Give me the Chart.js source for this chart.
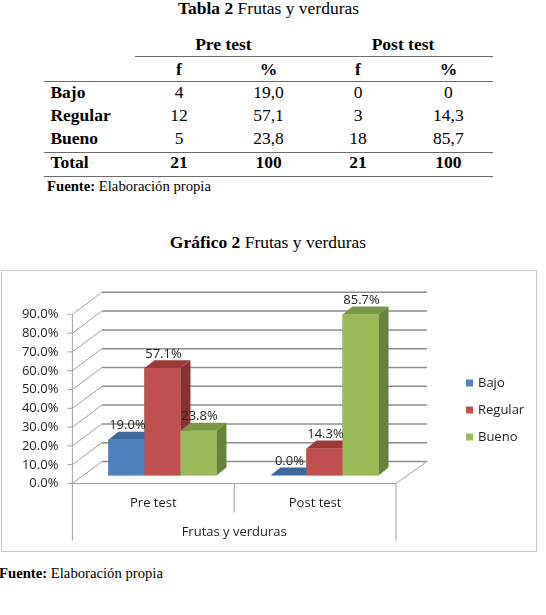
<!DOCTYPE html>
<html><head><meta charset="utf-8">
<script src="https://cdn.jsdelivr.net/npm/chart.js@4.4.0/dist/chart.umd.min.js"></script>
<style>
html,body{margin:0;padding:0;background:#fff;width:546px;height:615px;overflow:hidden;position:relative;}
.t{position:absolute;white-space:nowrap;line-height:1;font-family:"Liberation Serif","Times New Roman",serif;color:#000;font-size:17.5px;transform:translate(-50%,-50%);}
.l{transform:translate(0,-50%);}
.s{font-size:14.7px;}
.hl{position:absolute;height:0;border-top:1.5px solid #6a6a6a;}
#box{position:absolute;left:1px;top:270px;width:536px;height:282px;border:1px solid #c9c9c9;box-sizing:border-box;}
#c{position:absolute;left:0;top:0;}
</style></head>
<body>
<div id="page"></div>
<div id="box"></div>
<canvas id="c" width="546" height="615"></canvas>
<script>
// ---- chart data ----
const categories = ['Pre test', 'Post test'];
const axisTitle = 'Frutas y verduras';
const seriesNames = ['Bajo', 'Regular', 'Bueno'];
const bajo = [0.190, 0.000];
const regular = [0.571, 0.143];
const bueno = [0.238, 0.857];
const yMax = 0.9;
const yStep = 0.1;

// ---- table data ----
const tableRows = ['Bajo', 'Regular', 'Bueno'];
const preF = ['4', '12', '5'];
const prePct = ['19,0', '57,1', '23,8'];
const postF = ['0', '3', '18'];
const postPct = ['0', '14,3', '85,7'];
const totalLabel = 'Total';
const totals = ['21', '100', '21', '100'];
const groupHeads = ['Pre test', 'Post test'];
const colHeads = ['f', '%', 'f', '%'];

// ---- build table (HTML text) ----
const page = document.getElementById('page');
function txt(html, x, y, cls) {
  const d = document.createElement('div');
  d.className = 't' + (cls ? ' ' + cls : '');
  d.style.left = x + 'px'; d.style.top = y + 'px';
  d.innerHTML = html; page.appendChild(d);
}
function hline(x1, x2, y) {
  const d = document.createElement('div');
  d.className = 'hl';
  d.style.left = x1 + 'px'; d.style.width = (x2 - x1) + 'px'; d.style.top = y + 'px';
  page.appendChild(d);
}
const colX = [179, 268.5, 358, 448.4];
const rowY = [92.7, 116, 139.3];
txt('<b>Tabla 2</b> Frutas y verduras', 268.5, 9);
txt('<b>' + groupHeads[0] + '</b>', 223.4, 45);
txt('<b>' + groupHeads[1] + '</b>', 403, 45);
hline(134.5, 493, 56);
colHeads.forEach((h, i) => txt('<b>' + h + '</b>', colX[i], 70));
hline(44, 493, 80.5);
tableRows.forEach((r, i) => {
  txt('<b>' + r + '</b>', 50.4, rowY[i], 'l');
  [preF[i], prePct[i], postF[i], postPct[i]].forEach((v, j) => txt(v, colX[j], rowY[i]));
});
hline(44, 493, 152);
txt('<b>' + totalLabel + '</b>', 50.4, 163.3, 'l');
totals.forEach((v, j) => txt('<b>' + v + '</b>', colX[j], 163.3));
hline(44, 493, 176);
txt('<b>Fuente:</b> Elaboración propia', 47, 186, 'l s');
txt('<b>Gráfico 2</b> Frutas y verduras', 268, 243);
txt('<b>Fuente:</b> Elaboración propia', -1, 573, 'l s');

// ---- chart ----
const FONT = '"Open Sans", sans-serif';
const fronts = ['#4F81BD', '#C0504D', '#9BBB59'];
const tops = ['#3C689D', '#9A3B38', '#7A9843'];
const sides = ['#345C8B', '#863230', '#66833A'];
const DX = 10, DY = -8;

function L(ctx, x1, y1, x2, y2) {
  ctx.beginPath(); ctx.moveTo(x1, y1); ctx.lineTo(x2, y2); ctx.stroke();
}
function P(ctx, pts, col) {
  ctx.beginPath(); ctx.moveTo(pts[0][0], pts[0][1]);
  for (let k = 1; k < pts.length; k++) ctx.lineTo(pts[k][0], pts[k][1]);
  ctx.closePath(); ctx.fillStyle = col; ctx.fill();
}

const deco = {
  id: 'deco',
  beforeDatasetsDraw(chart) {
    const { ctx, chartArea: a, scales: { y } } = chart;
    const fL = a.left - 9, fR = a.right - 9.5, bL = fL + 29.5, bR = fR + 31;
    const fy = v => y.getPixelForValue(v) + 8;
    const by = v => y.getPixelForValue(v) - 14;
    const vals = y.ticks.map(t => t.value);
    ctx.save();
    ctx.lineCap = 'butt';
    ctx.strokeStyle = '#8e8e8e'; ctx.lineWidth = 1.5;
    vals.forEach(v => L(ctx, bL, by(v), bR, by(v)));
    ctx.strokeStyle = '#a0a0a0'; ctx.lineWidth = 1;
    vals.forEach(v => L(ctx, fL, fy(v), bL, by(v)));
    vals.forEach(v => L(ctx, fL - 5, fy(v), fL, fy(v)));
    const floorY = fy(0);
    L(ctx, fL, fy(vals[vals.length - 1]), fL, floorY + 57);
    L(ctx, fL, floorY, fR, floorY);
    L(ctx, fR, floorY, bR, by(0));
    L(ctx, fR, floorY, fR, floorY + 57);
    const n = chart.data.labels.length, cw = (fR - fL) / n;
    for (let i = 1; i < n; i++) L(ctx, fL + cw * i, floorY, fL + cw * i, floorY + 29);
    ctx.fillStyle = '#1f1f1f';
    ctx.font = '13px ' + FONT;
    ctx.textAlign = 'center'; ctx.textBaseline = 'middle';
    chart.data.labels.forEach((lab, i) => ctx.fillText(lab, fL + cw * (i + 0.5), floorY + 19.5));
    ctx.fillText(axisTitle, (fL + fR) / 2, floorY + 48.5);
    ctx.restore();
  },
  afterDatasetsDraw(chart) {
    const ctx = chart.ctx;
    const n = chart.data.labels.length;
    ctx.save();
    const labels = [];
    for (let i = 0; i < n; i++) {
      chart.data.datasets.forEach((ds, d) => {
        const bar = chart.getDatasetMeta(d).data[i];
        const p = bar.getProps(['x', 'y', 'base', 'width'], true);
        const l = p.x - p.width / 2, r = p.x + p.width / 2, top = p.y, base = p.base;
        P(ctx, [[r, top], [r + DX, top + DY], [r + DX, base + DY], [r, base]], sides[d]);
        P(ctx, [[l, top], [r, top], [r + DX, top + DY], [l + DX, top + DY]], tops[d]);
        bar.draw(ctx);
        labels.push([(ds.data[i] * 100).toFixed(1) + '%', p.x + 1, top - 14]);
      });
    }
    ctx.fillStyle = '#1f1f1f';
    ctx.font = '13px ' + FONT;
    ctx.textAlign = 'center'; ctx.textBaseline = 'middle';
    labels.forEach(t => ctx.fillText(t[0], t[1], t[2]));
    // legend
    ctx.textAlign = 'left';
    chart.data.datasets.forEach((ds, d) => {
      const ly = 383 + 27 * d;
      ctx.fillStyle = ds.backgroundColor;
      ctx.fillRect(466, ly - 3.5, 7, 7);
      ctx.fillStyle = '#1f1f1f';
      ctx.fillText(ds.label, 478, ly);
    });
    ctx.restore();
  }
};

new Chart(document.getElementById('c'), {
  type: 'bar',
  data: {
    labels: categories,
    datasets: [
      { label: seriesNames[0], data: bajo, backgroundColor: fronts[0] },
      { label: seriesNames[1], data: regular, backgroundColor: fronts[1] },
      { label: seriesNames[2], data: bueno, backgroundColor: fronts[2] }
    ]
  },
  options: {
    responsive: false, animation: false, devicePixelRatio: 1,
    layout: { padding: { left: 0, right: 140.5, top: 306.3, bottom: 139.5 } },
    datasets: { bar: { categoryPercentage: 0.667, barPercentage: 1, borderWidth: 0 } },
    plugins: { legend: { display: false }, tooltip: { enabled: false } },
    scales: {
      x: { display: false, offset: true },
      y: {
        min: 0, max: yMax,
        afterFit(s) { s.width = 81.4; },
        grid: { display: false, drawTicks: false }, border: { display: false },
        ticks: {
          stepSize: yStep, padding: 23, labelOffset: 8.2, color: '#1f1f1f',
          font: { family: FONT, size: 13 },
          callback: v => (v * 100).toFixed(1) + '%'
        }
      }
    }
  },
  plugins: [deco]
});
</script>
</body></html>
